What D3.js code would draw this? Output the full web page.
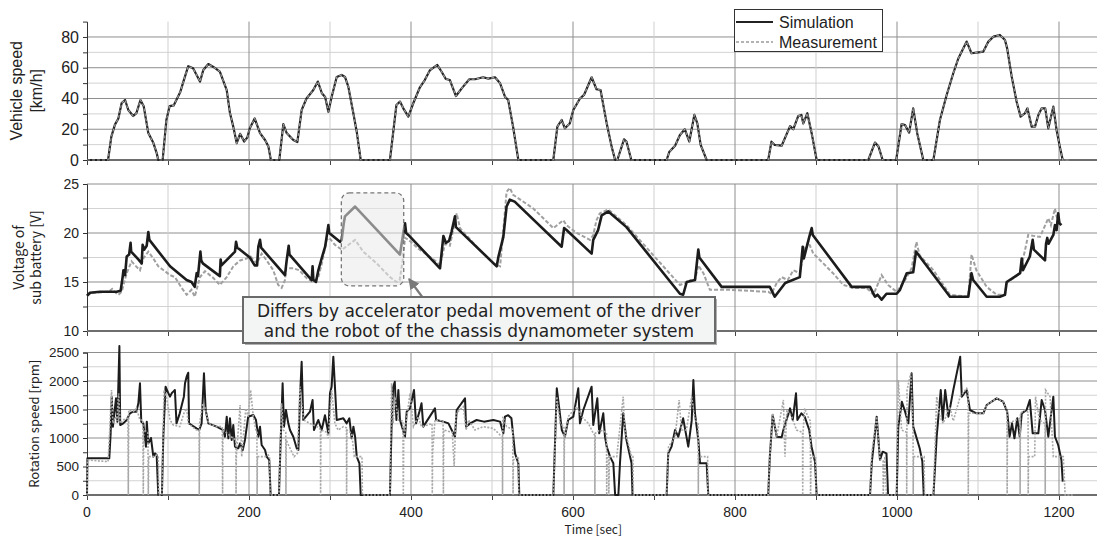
<!DOCTYPE html>
<html>
<head>
<meta charset="utf-8">
<script src="https://cdn.jsdelivr.net/npm/d3@7"></script>
<style>
body { margin: 0; background: #fff; }
</style>
</head>
<body>
<script>
// ---- data: [time (s), value] ----
var speedSim = [
  [0,0],[26,0],[30,15],[34.5,23],[38.7,27],[42.8,37],[47,39],[51,32.5],[57,28.6],[61,30.5],[66,39],[70,35],[75.7,17.5],[82,11],[86,4.5],[88,0],[93.4,0],
  [98,26],[102,35],[107,35.5],[115,44],[119,51],[125,61],[131,59.6],[139.5,51],[143.6,58.5],[149.8,62.4],[156,60.5],[164,57.5],[172.5,45.5],[176.5,30.5],
  [180.6,21.7],[184.8,11],[189,17],[194,12],[198,14.7],[201,20.7],[207,27],[213.6,17.5],[219.8,13],[224,8.7],[227,0],[237.4,0],[242.4,23.4],[246.5,17.5],
  [254.7,13],[259.7,11.7],[265,32.5],[271,40],[279.4,45.5],[285,51],[290,43.4],[294,41],[298,31.4],[302,41],[308.3,54],[314.4,55.3],[318.5,54],[322.6,47.7],
  [328.8,30.4],[333,18.4],[337.9,0],[374,0],[382,35.8],[386.4,38],[390.5,33.6],[396.7,28.2],[402.8,36.9],[411,47.3],[417,52],[423.5,58.5],[432.5,61.8],
  [437.8,57.4],[443,52.7],[448,52],[455.5,41.6],[462.6,46.6],[472,52.5],[479,52.5],[489,53.8],[495.5,52.9],[503.7,53.8],[510,49.9],[516,41.2],[520,39],
  [526,21.7],[532.5,0],[575.7,0],[580.7,21.7],[586,26],[590,20.6],[596,23.8],[600.4,32.5],[608.6,40],[613.6,42.3],[623,53.8],[629,46],[634,45.5],
  [641.6,23.8],[647.7,8.7],[652,0],[654.7,0],[663,13.4],[666,12],[672,0],[715.6,0],[719,5.4],[726,9.3],[732,16.3],[738,20],[743.6,12],[749.8,29.3],
  [753.5,23.8],[757.6,9.8],[765,0],[841,0],[845,11.9],[849,9.8],[857.6,9.3],[868,22],[872,20],[878,28.6],[882,29.3],[884.3,23.8],[889.3,30.4],[894.7,17.3],
  [900.8,0],[964.6,0],[972.8,11.3],[977,9],[982.3,0],[999,0],[1005.7,23.4],[1009.9,22.8],[1015,17.8],[1020,33.6],[1025,17.3],[1032.5,0],[1044.9,0],
  [1053,26],[1061.3,42.3],[1069.5,56.4],[1075.7,66],[1086,77],[1092,69.4],[1100.4,70],[1106.6,70.5],[1112.8,77],[1119,80.2],[1127,81.3],[1133.3,78],
  [1136,72.6],[1141.6,54.2],[1147.7,37.9],[1152.6,28.2],[1158,30.4],[1161,33.6],[1166.3,21.7],[1170.4,21.7],[1174.5,29.3],[1178.6,33.6],[1183,33.6],
  [1186.8,20.6],[1193,34.7],[1197,19.5],[1201,8.7],[1204.6,0]
];
// measured speed follows the simulated one, with a short tail at 0
var speedMeas = speedSim.concat([[1213,0]]);

var voltSim = [
  [0,13.6],[3.7,13.9],[16,14.0],[36.6,14.0],[41.5,14.1],[44,15.5],[45,16.2],[47,15.7],[49,17.6],[52,17.8],[53.8,19.0],[54.5,18.1],[63.4,17.3],[67.5,16.9],
  [68.7,18.8],[70.5,18.3],[73.7,18.7],[75.7,20.1],[77,19.3],[102.5,16.6],[123,15.2],[129,15.0],[133,14.5],[135.4,15.9],[137,15.6],[140,18.1],[141,17.2],
  [143,16.9],[164,15.6],[165,17.3],[166,16.7],[182.7,18.1],[184,19.1],[185.5,18.5],[189,18.3],[201,17.5],[207,16.7],[210,16.7],[211.5,18.6],[213.6,19.3],
  [215,18.5],[244.4,15.7],[246.5,17.2],[249,18.7],[250,17.8],[277.4,15.2],[278.5,16.6],[279.5,15.2],[282.7,15.0],[285.6,16.2],[290,17.5],[294,18.6],
  [298,20.8],[299,20.0],[312.3,19.1],[314.4,19.3],[317,21.0],[318.5,21.7],[331,22.7],[386.4,17.8],[390.5,20.0],[392.6,21.0],[394,20.0],[396.7,19.8],
  [435.8,16.4],[440,19.7],[443,19.0],[447,19.2],[450,20.1],[454.3,21.7],[455.5,20.6],[505.8,16.6],[508,17.6],[514,19.6],[518,22.7],[522,23.4],[528,23.2],
  [586,18.6],[589,20.5],[592,20.3],[623,17.9],[625,19.3],[631,20.3],[635.4,21.8],[643.6,22.2],[666,20.6],[732,13.8],[736,13.7],[740.4,15.0],[750.6,15.2],
  [754.7,18.3],[756,17.5],[783.5,14.5],[843,14.5],[849,13.5],[862,14.9],[880,15.5],[883.6,18.6],[885,17.4],[891.7,19.6],[894.7,20.5],[896,19.8],[944,14.5],
  [966.7,14.5],[972.8,13.5],[976,13.7],[981,13.2],[987,13.8],[999.6,13.8],[1003.7,14.2],[1012,15.9],[1020,16.0],[1023.5,18.1],[1028,17.6],[1065.4,13.5],
  [1088,13.5],[1092,15.9],[1094,15.2],[1110.7,13.5],[1127,13.5],[1133.3,13.7],[1135.4,15.0],[1152,15.9],[1154,17.4],[1155.5,16.2],[1164,17.6],[1167.5,19.3],
  [1169,18.3],[1182.7,17.2],[1184,18.9],[1185.5,19.5],[1187,18.9],[1193,19.8],[1195,20.8],[1197,20.3],[1199,22.0],[1200.5,21.0],[1203,20.8]
];

var voltMeas = [
  [0,13.6],[5,13.9],[27,14.0],[31,14.3],[34,14.0],[38.7,13.7],[42.8,14.0],[49,15.9],[55,17.1],[59.3,16.7],[65.4,16.2],[69.5,17.4],[75.7,18.1],[81.9,17.4],
  [88,16.6],[96.3,16.1],[102.5,15.7],[108.6,15.5],[116.8,14.4],[123,13.7],[129,14.2],[133,13.5],[139.5,15.5],[145.7,16.1],[156,15.4],[164,14.7],[172.5,15.5],
  [180.6,16.6],[189,17.2],[197,17.4],[202,17.6],[209.5,16.9],[215.6,17.9],[221.8,17.2],[230,16.2],[236,14.7],[240.3,14.4],[244.4,15.2],[246,16.4],
  [254.7,16.4],[262,16.2],[271,15.4],[279.4,15.0],[285.6,15.5],[290,16.9],[295.8,19.3],[299,19.5],[306,18.8],[314.4,18.3],[316.5,18.4],[331,19.3],
  [341,18.1],[357.6,16.9],[374,15.5],[382,15.0],[386,15.2],[389.7,17.2],[392.6,19.5],[397,19.3],[409,18.4],[419.4,17.8],[429.6,17.2],[435.8,16.7],
  [442,18.9],[448,18.7],[456.4,22.0],[460.5,20.5],[481,18.6],[501.6,16.9],[510,16.6],[514,20.3],[518,24.2],[522,24.6],[526,23.9],[551,22.5],[575.7,20.5],
  [588,21.3],[592,20.8],[604.5,20.0],[621,19.3],[625,19.8],[629,21.3],[633,22.0],[643.6,22.4],[666,20.8],[732,14.7],[738,14.9],[745,15.2],[750,15.0],
  [754.7,16.7],[761,15.9],[769,14.2],[794,14.2],[841,14.0],[845,13.8],[851.5,14.9],[857.6,15.5],[865,15.2],[872,16.2],[880,15.9],[886,18.4],[890.5,19.1],
  [896.7,17.9],[909,16.9],[921,15.9],[933.7,14.7],[946,14.4],[962.6,14.4],[970.8,13.7],[981,15.7],[989,14.7],[999.6,14.0],[1010,15.2],[1018,16.4],
  [1024,19.1],[1028,17.7],[1045,16.2],[1065.4,13.7],[1088,13.5],[1092,17.8],[1098,16.2],[1110.7,14.5],[1123,13.7],[1133.3,13.7],[1135.4,14.9],[1152,15.9],
  [1162,19.8],[1176.5,19.6],[1186.8,21.5],[1190,20.8],[1195,22.5],[1197,21.7],[1201,21.0],[1203,21.2]
];

var rpmSim = [
  [0,0],[0.5,643],[27.5,643],[29.2,1082],[30.5,1725],[32,1199],[35.8,1696],[37.5,1287],[40,2614],[41,1228],[44.8,1257],[49,1316],[53,1433],[57,1462],
  [61,1462],[63.4,1608],[65.4,1959],[67,1287],[69.5,1257],[72.8,848],[73.8,1287],[75.7,906],[79,1000],[81.9,673],[84,731],[86,702],[88,0],[92.5,0],
  [94.2,1023],[97,1900],[100,1800],[102.5,1725],[104.5,1784],[106.5,1813],[108.5,1842],[110.5,1257],[114.5,1433],[119.6,1725],[121,1959],[123,2076],
  [125,2146],[126,1257],[129,1228],[135.2,1170],[138.6,1140],[141.5,1257],[144.4,2135],[146.5,1491],[149.8,1257],[160,1199],[168.3,1140],[170.3,1023],
  [172.5,1374],[174.5,994],[176.5,1345],[178.6,965],[180.6,1228],[182.7,848],[186.8,819],[189,906],[192.3,789],[195,965],[199,1374],[205.3,1404],
  [208.6,1316],[211.5,1023],[213.6,1199],[215.6,877],[219.8,789],[221.8,673],[225,614],[226.7,0],[237,0],[238.6,731],[241.5,1959],[243.2,1199],
  [245.6,1491],[248.5,1257],[250.6,1140],[254.7,1023],[258.9,819],[261,789],[263,1725],[265,2339],[267,1316],[275.3,1462],[278.5,1667],[280.2,1140],
  [285.6,1316],[289.7,1140],[293.8,1400],[298,1082],[300,1784],[302,1900],[304.1,2427],[306.2,1871],[308.3,1316],[316.5,1345],[320.6,1257],[323.9,1345],
  [326.8,994],[328.9,1199],[331,1023],[333,673],[336.3,556],[337.9,0],[374,0],[376,1199],[378,1900],[380,1988],[382,1316],[384.4,1842],[386.4,1316],
  [392.6,1023],[394.7,1462],[398.8,1520],[403.7,1842],[406.2,1257],[411,1491],[413,1608],[415.2,1199],[429.6,1520],[431,1316],[440,1287],[446.2,1257],
  [454.3,1023],[456.4,1491],[466.7,1696],[468,1199],[473,1257],[481,1316],[490,1287],[501.6,1316],[510,1287],[514,1082],[516,1374],[520,1400],[524,1345],
  [528.4,731],[532.5,556],[533.7,0],[575.7,0],[580,1871],[583.3,1491],[586.2,1140],[590,1023],[594,1316],[600.4,1374],[606.5,1871],[608.6,1257],
  [612.7,1491],[623,1900],[625,1228],[630,1696],[632.4,1082],[637.4,1433],[639.5,1023],[641.6,848],[645.7,673],[649.8,556],[652,0],[656,0],[658,556],
  [662,1433],[666,965],[672.3,556],[673.5,0],[715.6,0],[717.6,731],[721.7,848],[726,1140],[730,1023],[736,1345],[742.3,848],[746.5,1300],[748.6,2018],
  [750.6,1433],[754.7,965],[756.8,556],[765,556],[767,0],[841,0],[843,673],[846.5,1404],[851.5,1023],[857.6,1012],[859.7,1140],[868,1520],[871.3,1316],
  [875.3,1784],[877,1316],[882,1433],[886,1374],[891.7,1140],[894.5,848],[898.8,585],[900.8,0],[966.7,0],[968.8,556],[974.9,1374],[979,614],[982.3,760],
  [987,731],[989,0],[999.6,0],[1001.6,1199],[1006,1637],[1010,1462],[1014,1257],[1018,2135],[1020,1199],[1028,819],[1031.3,585],[1033,0],[1045,0],
  [1049,1023],[1054,1842],[1056.5,1316],[1059.5,1842],[1063.5,1374],[1069.5,1842],[1078,2427],[1080,1725],[1086,1842],[1090,1491],[1098,1433],
  [1106.6,1433],[1110.7,1579],[1123,1696],[1131,1637],[1136,1462],[1139,1023],[1142,1257],[1145,994],[1148.5,1345],[1151.5,1023],[1154,1433],[1160,1491],
  [1164,1667],[1167.5,1082],[1174.5,1082],[1178.6,1667],[1182.7,1491],[1186.8,1023],[1193,1725],[1195,1023],[1199,877],[1203,614],[1204.6,234]
];

var rpmMeas = [
  [0,0],[0.5,614],[26,585],[28,1140],[30.3,1842],[32,1257],[35,1374],[37,1300],[39,1784],[41,1257],[47,1345],[50.5,1345],[51,0],[51.5,1491],[57,1462],
  [61,1520],[65.4,1316],[69,1316],[69.5,0],[70,1140],[75.2,1100],[75.7,0],[76.2,673],[81.9,673],[86,702],[88,673],[88.5,0],[92.5,0],[95,1842],[98,1725],
  [102.5,1316],[106.5,1228],[114.5,1199],[119.6,1433],[123,1520],[125,1257],[135.2,1140],[138.4,1140],[138.6,0],[139,1257],[143,1608],[146,1520],
  [150,1257],[160,1199],[167,1199],[167.4,0],[167.8,1140],[180,1000],[183.8,965],[184,0],[184.4,673],[189,1579],[191,673],[196,1520],[199,1374],
  [202,1842],[205.3,1374],[208.5,1140],[209.8,1100],[210,0],[210.4,673],[219.8,673],[223.9,702],[225.5,643],[226,0],[237,0],[240.2,1608],[242.3,1140],
  [245.4,1100],[245.6,0],[246,965],[251.6,789],[255.7,673],[259.8,731],[263,1900],[265,1608],[267.5,1316],[275,1257],[284,1199],[288.2,1150],[288.4,0],
  [288.8,1140],[296,1100],[298,1000],[302,1842],[306,1257],[310,1140],[316.5,1199],[320.3,1180],[320.5,0],[320.9,1140],[326.8,1082],[330,673],
  [339.5,673],[340,0],[374,0],[376,1959],[378,1257],[380,1725],[384.4,1316],[390,1300],[390.5,0],[391,965],[398.8,1784],[403,1199],[409,1374],
  [413,1199],[426,1250],[426.3,0],[426.7,731],[429.6,1316],[439.6,1300],[440,0],[440.4,1140],[451,1100],[453.3,497],[455.5,1433],[464.6,1550],[468,1140],
  [471,1316],[479,1140],[489,1199],[501.6,1170],[510,1053],[512.8,1040],[513,0],[513.4,1374],[518,1200],[525.6,1150],[526,0],[526.4,614],[532.5,673],
  [533,0],[575.7,0],[580,1725],[584,1257],[588.8,1200],[589,0],[589.4,965],[594,1374],[604.5,1550],[610.6,1374],[619,1257],[625,1082],[626.8,1050],
  [627,0],[627.4,1082],[633,1140],[641.4,1100],[641.6,0],[642,673],[644,673],[644.2,0],[645,673],[654,673],[662,1725],[664,1140],[672.3,673],[674,673],
  [674.5,0],[715.6,0],[718,848],[726,1023],[731,1667],[734,1140],[740,1140],[746.5,1725],[750.6,1316],[754.5,1250],[754.7,0],[755,673],[766.2,673],
  [766.5,0],[841,0],[843,673],[846.5,1433],[851.5,1023],[859.7,1667],[861.7,673],[864,1491],[870,1374],[876,1140],[883.4,1100],[883.6,0],[884,1100],
  [886,1520],[890,1374],[893,1300],[893.3,0],[894,673],[899.4,673],[900,0],[966.7,0],[968.8,731],[974.9,1374],[979,614],[982.8,600],[983,0],[985,673],
  [987,0],[999.6,0],[1001.6,2018],[1005.7,1140],[1011.8,1100],[1012,0],[1012.4,1842],[1017,2135],[1019.8,1200],[1020,0],[1020.4,673],[1033.5,673],
  [1034,0],[1045,0],[1049,1725],[1053,1374],[1057,1257],[1065,1550],[1069.5,1300],[1078,1725],[1086,1871],[1087.8,1800],[1088,0],[1088.5,1433],
  [1098,1433],[1106.6,1433],[1110.7,1579],[1123,1696],[1131,1637],[1135.8,1500],[1136,0],[1136.4,1257],[1145,1300],[1151.8,1350],[1152,0],
  [1152.4,1433],[1158,1491],[1161.8,1450],[1162,0],[1162.4,673],[1170,673],[1171,1725],[1176,1316],[1182.8,1250],[1183,0],[1183.4,1842],[1189,1725],
  [1193,673],[1205.3,673],[1207.6,0],[1217,0]
];

var xTicks = d3.range(0, 1201, 100);
var xLabels = [0, 200, 400, 600, 800, 1000, 1200];
var legendNames = ["Simulation", "Measurement"];
var noteLines = ["Differs by accelerator pedal movement of the driver",
                 "and the robot of the chassis dynamometer system"];

// ---- layout ----
var width = 1097, height = 540;
var x = d3.scaleLinear().domain([0, 1250]).range([87, 1099.5]);
var right = 1097;

var svg = d3.select("body").append("svg")
  .attr("width", width)
  .attr("height", height)
  .style("font-family", "'Liberation Sans', Arial, sans-serif");

var panels = [
  { y: d3.scaleLinear().domain([0, 90]).range([160, 21.6]), top: 90,
    major: [20, 40, 60, 80], minor: [10, 30, 50, 70], labels: [0, 20, 40, 60, 80], fs: 16,
    title: ["Vehicle speed", "[km/h]"], tx: [22, 42], tfs: 16, tfont: "'Liberation Sans', Arial, sans-serif" },
  { y: d3.scaleLinear().domain([10, 25]).range([331, 184]), top: 25,
    major: [15, 20, 25], minor: [12.5, 17.5, 22.5], labels: [10, 15, 20, 25], fs: 14,
    title: ["Voltage of", "sub battery [V]"], tx: [24, 41], tfs: 14, tfont: "'Noto Sans CJK JP', sans-serif" },
  { y: d3.scaleLinear().domain([0, 2500]).range([495, 352.5]), top: 2500,
    major: [500, 1000, 1500, 2000, 2500], minor: [250, 750, 1250, 1750, 2250], labels: [0, 500, 1000, 1500, 2000, 2500], fs: 13.5,
    title: ["Rotation speed [rpm]"], tx: [39], tfs: 13, tfont: "'Noto Sans CJK JP', sans-serif" }
];

panels.forEach(function(p) {
  var g = svg.append("g");
  var y0 = p.y.range()[0], y1 = p.y(p.top);

  // horizontal gridlines
  g.selectAll(".hmin").data(p.minor).enter().append("line")
    .attr("x1", x(0)).attr("x2", right)
    .attr("y1", d => p.y(d)).attr("y2", d => p.y(d))
    .attr("stroke", "#d2d2d2").attr("stroke-width", 1);
  g.selectAll(".hmaj").data(p.major).enter().append("line")
    .attr("x1", x(0)).attr("x2", right)
    .attr("y1", d => p.y(d)).attr("y2", d => p.y(d))
    .attr("stroke", "#8e8e8e").attr("stroke-width", 1);

  // vertical gridlines
  g.selectAll(".v").data(xTicks.slice(1)).enter().append("line")
    .attr("x1", d => x(d)).attr("x2", d => x(d))
    .attr("y1", y0).attr("y2", y1)
    .attr("stroke", d => d % 200 === 0 ? "#8e8e8e" : "#cfcfcf").attr("stroke-width", 1);

  // left axis
  var yAxis = d3.axisLeft(p.y)
    .tickValues(p.labels.concat(p.minor))
    .tickSize(4).tickPadding(4)
    .tickFormat(d => p.labels.indexOf(d) >= 0 ? d : "");
  var ga = g.append("g").attr("transform", "translate(" + x(0) + ",0)").call(yAxis);
  ga.select(".domain").attr("stroke", "#333");
  ga.selectAll(".tick line").attr("stroke", "#333");
  ga.selectAll("text").attr("fill", "#222").style("font-size", p.fs + "px")
    .style("font-family", "'Liberation Sans', Arial, sans-serif");

  // bottom axis line with ticks
  var xAxis = d3.axisBottom(x).tickValues(xTicks).tickSize(5).tickFormat("");
  var gx = g.append("g").attr("transform", "translate(0," + y0 + ")").call(xAxis);
  gx.select(".domain").remove();
  gx.selectAll(".tick line").attr("stroke", "#444");
  g.append("line").attr("x1", x(0)).attr("x2", right).attr("y1", y0).attr("y2", y0)
    .attr("stroke", "#6e6e6e").attr("stroke-width", 2);

  // axis title
  var cy = (y0 + y1) / 2;
  p.title.forEach(function(t, i) {
    g.append("text")
      .attr("transform", "translate(" + p.tx[i] + "," + cy + ") rotate(-90)")
      .attr("text-anchor", "middle")
      .style("font-size", p.tfs + "px")
      .style("font-family", p.tfont)
      .attr("fill", "#222")
      .text(t);
  });
  p.g = g;
});

// ---- series ----
function lineFor(p) {
  return d3.line().x(d => x(d[0])).y(d => p.y(d[1]));
}

var pS = panels[0], pV = panels[1], pR = panels[2];

pS.g.append("path").datum(speedSim).attr("d", lineFor(pS))
  .attr("fill", "none").attr("stroke", "#222").attr("stroke-width", 2.2).attr("stroke-linejoin", "round");
pS.g.append("path").datum(speedMeas).attr("d", lineFor(pS))
  .attr("fill", "none").attr("stroke", "#9a9a9a").attr("stroke-width", 1.2).attr("stroke-dasharray", "3,2");

pV.g.append("path").datum(voltMeas).attr("d", lineFor(pV))
  .attr("fill", "none").attr("stroke", "#a0a0a0").attr("stroke-width", 2).attr("stroke-dasharray", "4,2");
pV.g.append("path").datum(voltSim).attr("d", lineFor(pV))
  .attr("fill", "none").attr("stroke", "#1c1c1c").attr("stroke-width", 2.6).attr("stroke-linejoin", "round");

pR.g.append("path").datum(rpmSim).attr("d", lineFor(pR))
  .attr("fill", "none").attr("stroke", "#1c1c1c").attr("stroke-width", 2).attr("stroke-linejoin", "round");
pR.g.append("path").datum(rpmMeas).attr("d", lineFor(pR))
  .attr("fill", "none").attr("stroke", "#a8a8a8").attr("stroke-width", 1.6).attr("stroke-dasharray", "2,1.5");

// ---- x labels ----
svg.append("g").selectAll("text").data(xLabels).enter().append("text")
  .attr("x", d => x(d)).attr("y", 517)
  .attr("text-anchor", "middle")
  .style("font-size", "14px").attr("fill", "#222")
  .text(d => d);

svg.append("text")
  .attr("x", (x(0) + x(1250)) / 2).attr("y", 534)
  .attr("text-anchor", "middle")
  .style("font-size", "12px")
  .style("font-family", "'Noto Sans CJK JP', sans-serif")
  .attr("fill", "#222")
  .text("Time [sec]");

// ---- legend ----
var leg = svg.append("g");
leg.append("rect").attr("x", 734.5).attr("y", 9.5).attr("width", 148).attr("height", 42)
  .attr("fill", "#fff").attr("stroke", "#333").attr("stroke-width", 1);
legendNames.forEach(function(name, i) {
  var ly = 22 + i * 20;
  leg.append("line").attr("x1", 736).attr("x2", 773).attr("y1", ly).attr("y2", ly)
    .attr("stroke", i === 0 ? "#222" : "#9a9a9a")
    .attr("stroke-width", i === 0 ? 2 : 1.6)
    .attr("stroke-dasharray", i === 0 ? null : "3,2");
  leg.append("text").attr("x", 779).attr("y", ly + 5.5)
    .style("font-size", "16px").attr("fill", "#222").text(name);
});

// ---- annotation ----
var ann = svg.append("g");
ann.append("rect")
  .attr("x", x(314)).attr("y", pV.y(24.1))
  .attr("width", x(391) - x(314)).attr("height", pV.y(14.6) - pV.y(24.1))
  .attr("rx", 8).attr("ry", 8)
  .attr("fill", "#e9e9e9").attr("fill-opacity", 0.55)
  .attr("stroke", "#777").attr("stroke-width", 1.3).attr("stroke-dasharray", "4,3");

svg.append("defs").append("marker")
  .attr("id", "arr").attr("viewBox", "0 0 10 10").attr("refX", 9).attr("refY", 5)
  .attr("markerWidth", 5).attr("markerHeight", 5).attr("orient", "auto")
  .append("path").attr("d", "M0,0L10,5L0,10z").attr("fill", "#7a7a7a");

ann.append("line").attr("x1", 423).attr("y1", 298).attr("x2", 409).attr("y2", 279)
  .attr("stroke", "#7a7a7a").attr("stroke-width", 2.2).attr("marker-end", "url(#arr)");

ann.append("rect").attr("x", 245).attr("y", 299).attr("width", 472).attr("height", 46)
  .attr("fill", "#b0b0b0");
ann.append("rect").attr("x", 243).attr("y", 297).attr("width", 472).attr("height", 46)
  .attr("fill", "#f3f4f4").attr("stroke", "#6a6a6a").attr("stroke-width", 2);
noteLines.forEach(function(t, i) {
  ann.append("text").attr("x", 479).attr("y", 317 + i * 20)
    .attr("text-anchor", "middle")
    .style("font-size", "17px")
    .style("font-family", "'DejaVu Sans', sans-serif")
    .attr("fill", "#222")
    .text(t);
});
</script>
</body>
</html>
